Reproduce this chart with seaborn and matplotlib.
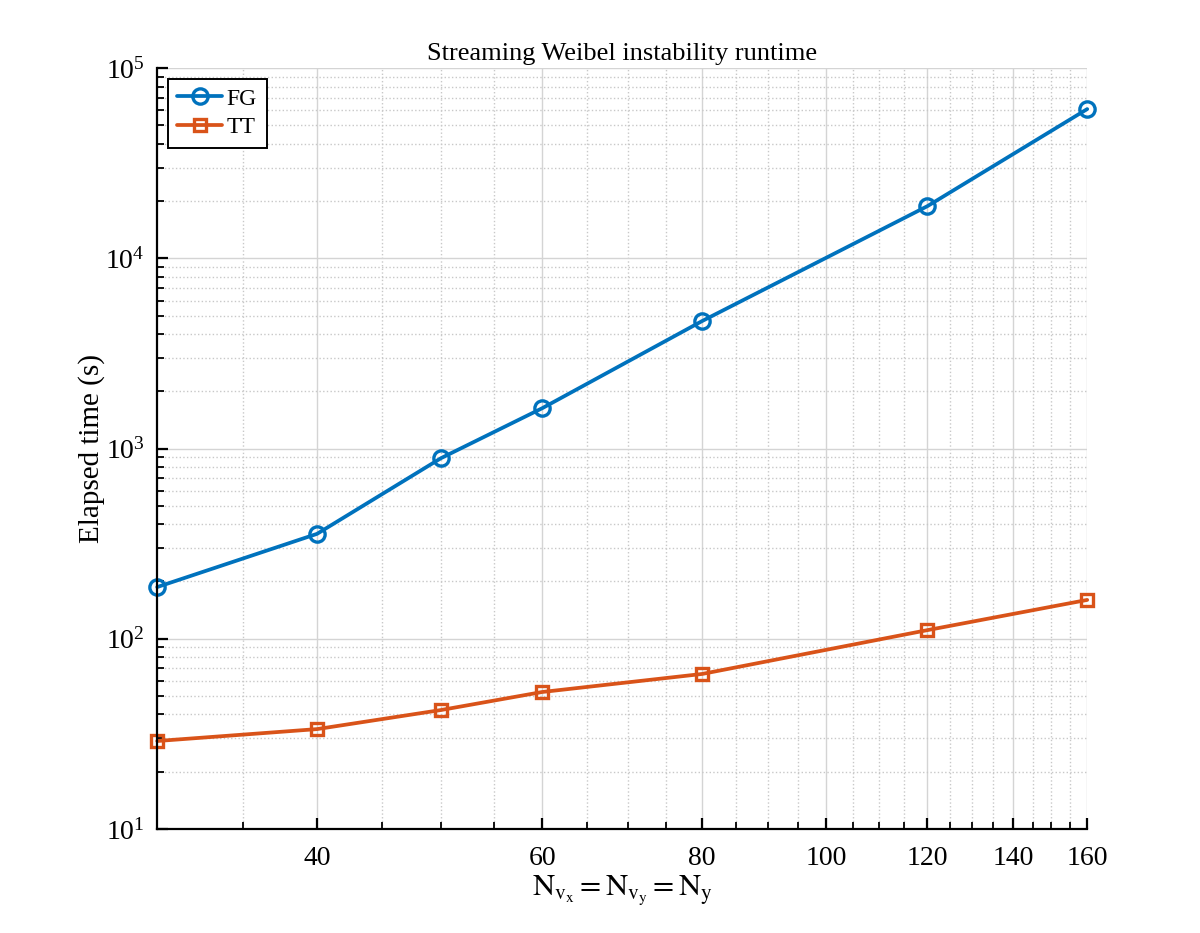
import numpy as np
import pandas as pd
import matplotlib
matplotlib.use('Agg')
import matplotlib.pyplot as plt
import matplotlib.ticker as mticker
import seaborn as sns

# Data
grid_sizes = [30, 40, 50, 60, 80, 120, 160]
fg_times = [187, 356, 890, 1630, 4680, 18800, 60900]
tt_times = [29.0, 33.5, 42.2, 52.5, 65.3, 111, 160]
x_ticks = [40, 60, 80, 100, 120, 140, 160]

df = pd.DataFrame({
    'N': grid_sizes * 2,
    'time': fg_times + tt_times,
    'method': ['FG'] * len(grid_sizes) + ['TT'] * len(grid_sizes),
})

sns.set_style('white')
plt.rcParams['font.family'] = ['Liberation Serif', 'DejaVu Serif']
plt.rcParams['mathtext.fontset'] = 'stix'
plt.rcParams['text.color'] = 'black'
plt.rcParams['axes.labelcolor'] = 'black'
plt.rcParams['xtick.color'] = 'black'
plt.rcParams['ytick.color'] = 'black'

fig = plt.figure(figsize=(12, 9.33), dpi=100)
ax = fig.add_axes([0.131, 0.1115, 0.775, 0.8155])

colors = {'FG': '#0072BD', 'TT': '#D95319'}
markers = {'FG': 'o', 'TT': 's'}
for m in ['FG', 'TT']:
    sub = df[df['method'] == m]
    sns.lineplot(data=sub, x='N', y='time', ax=ax, color=colors[m], marker=markers[m],
                 markersize=11 if m == 'FG' else 9, markerfacecolor='none',
                 markeredgecolor=colors[m], markeredgewidth=2.4, linewidth=2.7,
                 label=m, clip_on=False)

ax.set_xscale('log')
ax.set_yscale('log')
ax.set_xlim(30, 160)
ax.set_ylim(10, 1e5)

ax.xaxis.set_major_locator(mticker.FixedLocator(x_ticks))
ax.xaxis.set_major_formatter(mticker.FixedFormatter([str(v) for v in x_ticks]))
ax.xaxis.set_minor_locator(mticker.FixedLocator([v for v in range(35, 160, 5) if v not in x_ticks]))
ax.xaxis.set_minor_formatter(mticker.NullFormatter())
ax.yaxis.set_major_locator(mticker.LogLocator(base=10, numticks=10))
ax.yaxis.set_minor_locator(mticker.LogLocator(base=10, subs=np.arange(2, 10), numticks=20))

ax.grid(True, which='major', color='#d4d4d4', linestyle='-', linewidth=1.0)
ax.grid(True, which='minor', color='#c8c8c8', linestyle=':', linewidth=1.0)
ax.set_axisbelow(True)

for side in ['top', 'right']:
    ax.spines[side].set_visible(False)
for side in ['left', 'bottom']:
    ax.spines[side].set_color('black')
    ax.spines[side].set_linewidth(1.6)

ax.tick_params(which='major', direction='in', length=8, width=1.6, labelsize=20, pad=12,
               top=False, right=False, left=True, bottom=True)
ax.tick_params(which='minor', direction='in', length=5, width=1.3,
               top=False, right=False, left=True, bottom=True)
ax.tick_params(axis='y', which='major', pad=9)

ax.set_title('Streaming Weibel instability runtime', fontsize=19, pad=6)
ax.set_ylabel('Elapsed time (s)', fontsize=21, labelpad=0)
ax.set_xlabel(r'$\mathrm{N}_{\mathrm{v}_{\mathrm{x}}} = \mathrm{N}_{\mathrm{v}_{\mathrm{y}}} = \mathrm{N}_{\mathrm{y}}$',
              fontsize=22, labelpad=2)

leg = ax.legend(loc='upper left', fontsize=17, frameon=True, fancybox=False,
                framealpha=1, edgecolor='black', borderpad=0.4, handlelength=1.9,
                handletextpad=0.2, labelspacing=0.3, borderaxespad=0.45)
leg.get_frame().set_linewidth(1.4)

fig.savefig('out.png', dpi=100, facecolor='white')
